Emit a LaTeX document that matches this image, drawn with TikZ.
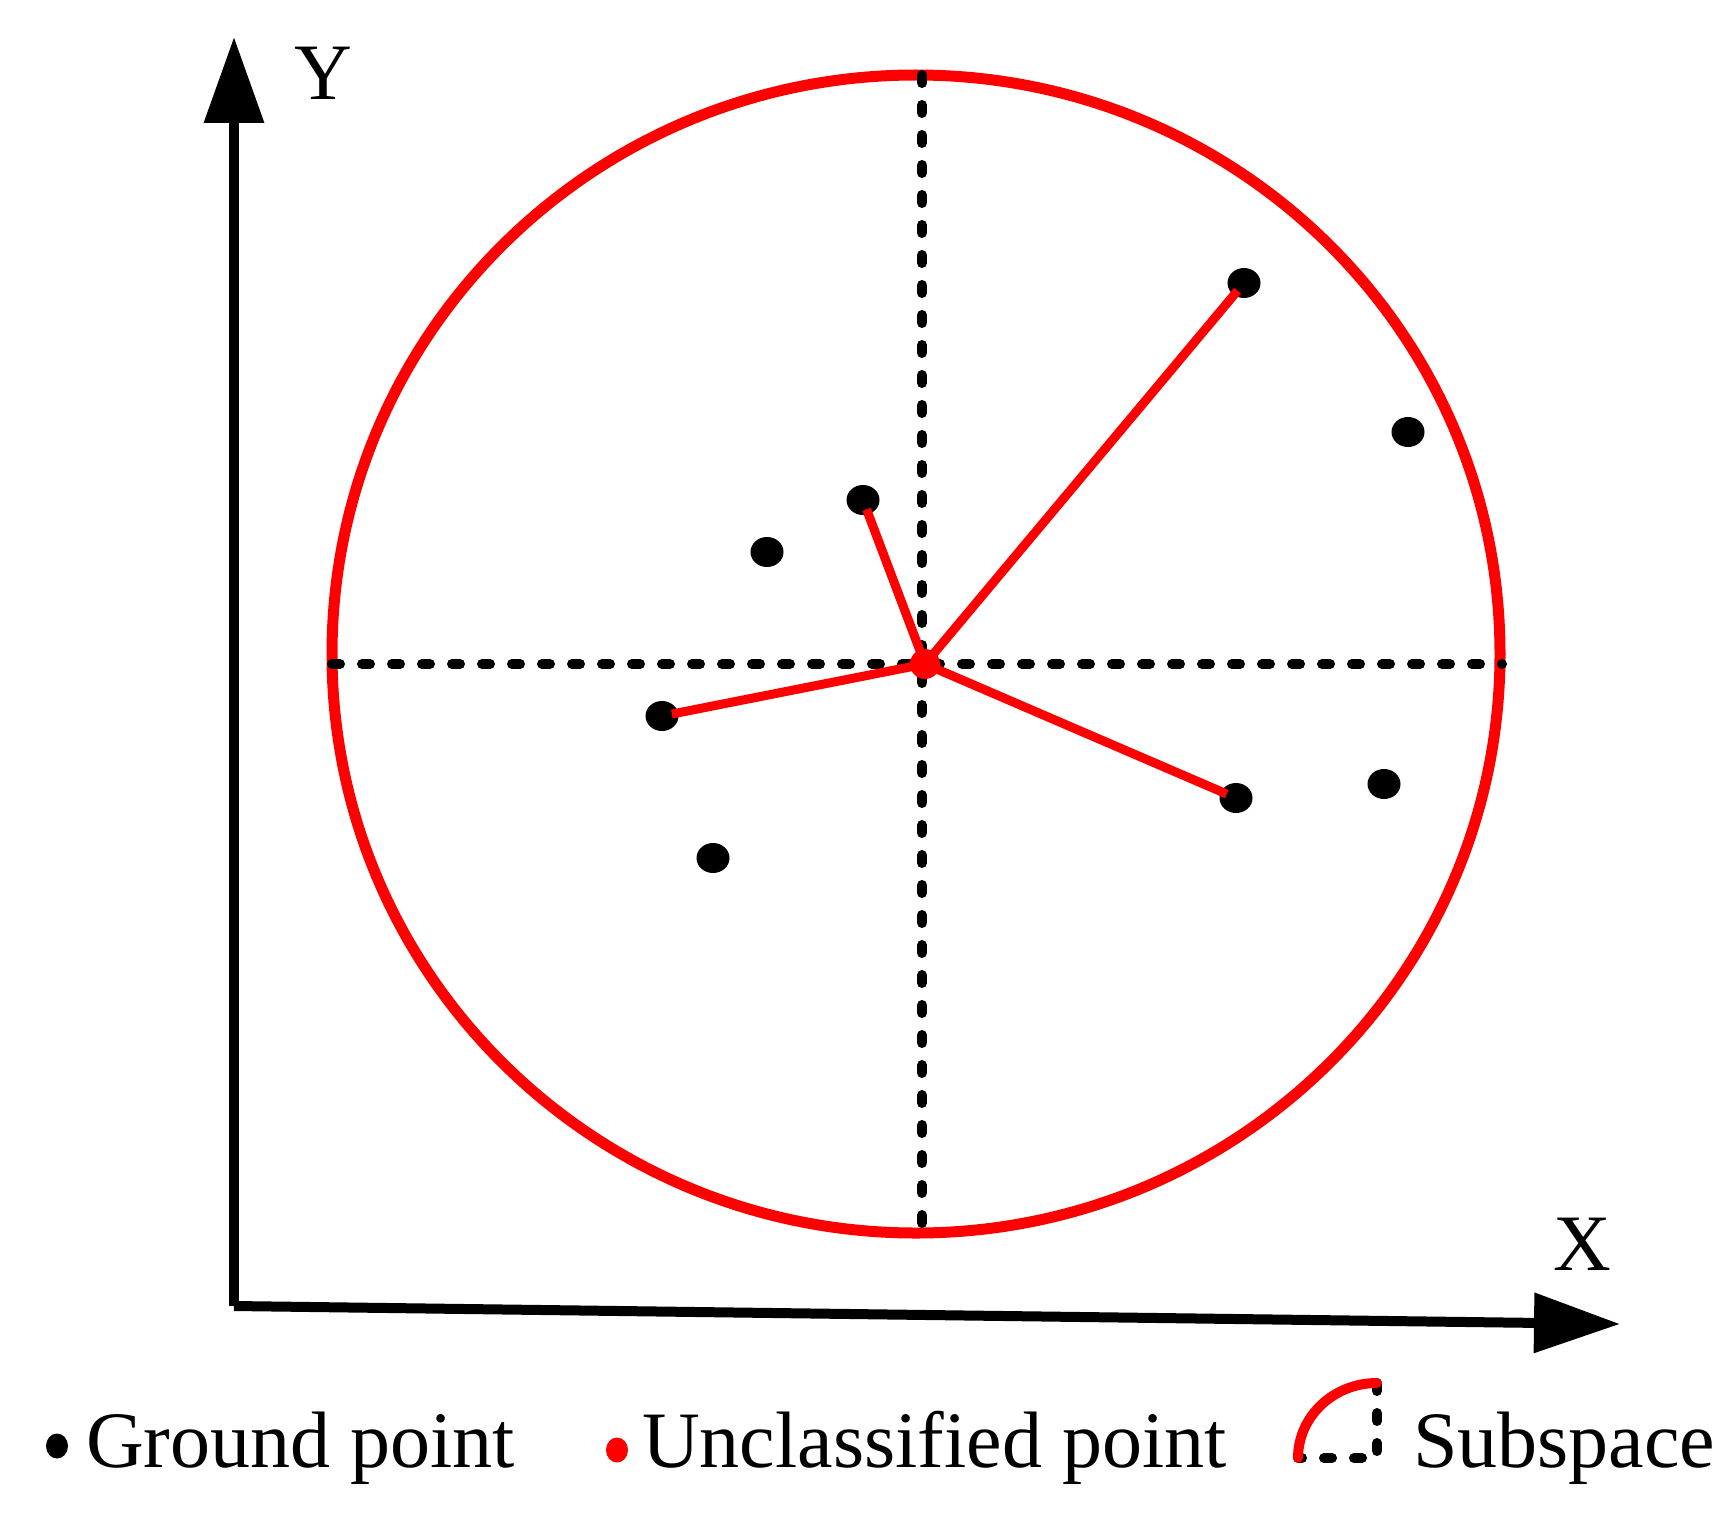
\documentclass[tikz,border=0pt]{standalone}
\usepackage{fontspec}
\setmainfont{Liberation Serif}
\usetikzlibrary{arrows.meta,shapes.geometric}
\begin{document}
\begin{tikzpicture}[x=1pt,y=-1pt,
  axisline/.style={line width=10pt, -{Triangle[length=86pt,width=58pt]}},
  ring/.style={draw=red, line width=11pt},
  dashline/.style={line width=10pt, line cap=round, dash pattern=on 8pt off 22pt},
  gdot/.style={ellipse, fill=black, inner sep=0pt, minimum width=33pt, minimum height=30pt},
  cdot/.style={circle, fill=red, inner sep=0pt, minimum size=30pt},
  ldot/.style={ellipse, inner sep=0pt, minimum width=22pt, minimum height=25pt},
  link/.style={draw=red, line width=9pt, shorten >=10pt},
  lbl/.style={font=\fontsize{80}{96}\selectfont, inner sep=0pt}
]
\useasboundingbox (0,0) rectangle (1721,1517);

% axes
\coordinate (O) at (234,1306);
\coordinate (ytip) at (234,37);
\coordinate (xtip) at (1620,1324);
\draw[axisline] (O) -- (ytip);
\draw[axisline] (O) -- (xtip);
\node[lbl] (ylbl) at (323,73) {Y};
\node[lbl] (xlbl) at (1582,1244) {X};

% circle
\draw[ring] (916,654) ellipse [x radius=584, y radius=579];

% dashed quadrant lines
\coordinate (hl) at (332,664);
\coordinate (hr) at (1502,664);
\coordinate (vt) at (922,75);
\coordinate (vb) at (922,1225);
\draw[dashline] (hl) -- (hr);
\draw[dashline] (vt) -- (vb);

% ground points
\node[gdot] (p1) at (1244,283) {};
\node[gdot] (p2) at (1408,432) {};
\node[gdot] (p3) at (863,500) {};
\node[gdot] (p4) at (767,552) {};
\node[gdot] (p5) at (662,716) {};
\node[gdot] (p6) at (713,858) {};
\node[gdot] (p7) at (1236,798) {};
\node[gdot] (p8) at (1384,784) {};

% unclassified point and links
\coordinate (c) at (925,664);
\draw[link] (c) -- (p1.center);
\draw[link] (c) -- (p3.center);
\draw[link] (c) -- (p5.center);
\draw[link] (c) -- (p7.center);
\node[cdot] (cp) at (c) {};

% legend
\node[ldot, fill=black] (lg) at (57,1446) {};
\node[lbl, anchor=base west] (tg) at (86,1467) {Ground point};
\node[ldot, fill=red] (lu) at (617,1450) {};
\node[lbl, anchor=base west] (tu) at (642,1467) {Unclassified point};
\coordinate (s1) at (1298,1458);
\coordinate (s2) at (1377,1458);
\coordinate (s3) at (1377,1383);
\draw[dashline] (s3) -- (s2) -- (s1);
\draw[red, line width=10pt, line cap=round] (s1) arc[start angle=180, end angle=90, x radius=79pt, y radius=75pt];
\node[lbl, anchor=base west] (ts) at (1413,1467) {Subspace};
\end{tikzpicture}
\end{document}
